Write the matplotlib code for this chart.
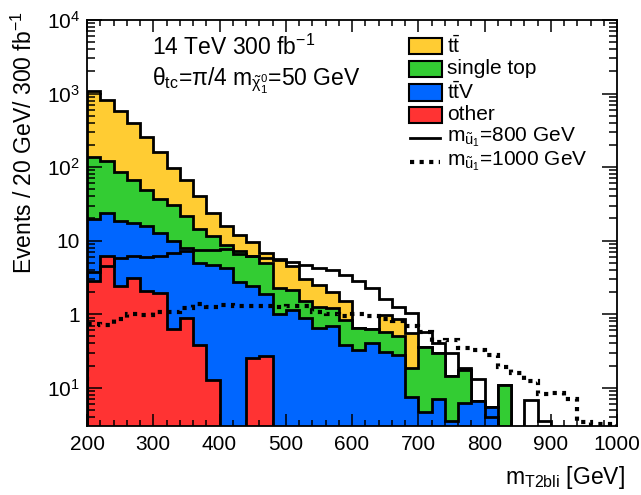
import numpy as np
import matplotlib
matplotlib.use("Agg")
import matplotlib.pyplot as plt
from matplotlib.patches import Rectangle
from matplotlib.lines import Line2D
from matplotlib.ticker import FixedLocator, FixedFormatter, LogLocator, MultipleLocator, NullFormatter

plt.rcParams['font.family'] = ['Liberation Sans', 'DejaVu Sans']
plt.rcParams['mathtext.fontset'] = 'custom'
plt.rcParams['mathtext.rm'] = 'Liberation Sans'
plt.rcParams['mathtext.it'] = 'Liberation Sans:italic'
plt.rcParams['mathtext.bf'] = 'Liberation Sans:bold'

# binning: 20 GeV bins from 200 to 1000
bin_edges = np.arange(200, 1001, 20)

# background yields per bin (events / 20 GeV / 300 fb^-1)
other = [2.85, 6.1, 2.44, 3.1, 2.04, 1.94, 0.63, 0.90, 0.38, 0.128,
         0, 0, 0.25, 0.27, 0, 0, 0, 0, 0, 0,
         0, 0, 0, 0, 0, 0, 0, 0, 0, 0,
         0, 0, 0, 0, 0, 0, 0, 0, 0, 0]
ttv = [16.8, 17.5, 16.3, 14.5, 14.0, 10.8, 9.2, 7.1, 4.6, 4.5,
       4.3, 2.7, 2.15, 1.58, 1.0, 1.15, 0.89, 0.65, 0.70, 0.38,
       0.33, 0.40, 0.31, 0.28, 0.074, 0.046, 0.071, 0.035, 0.062, 0.065,
       0.055, 0, 0, 0, 0, 0, 0, 0, 0, 0]
single_top = [119.4, 97.4, 68.3, 49.4, 33.0, 23.9, 20.8, 13.3, 9.5, 6.9,
              4.5, 4.5, 3.8, 3.15, 1.3, 1.0, 0.60, 0.62, 0.51, 0.46,
              0.32, 0.23, 0.27, 0.22, 0.111, 0.314, 0.224, 0.107, 0.113, 0,
              0, 0.109, 0, 0, 0, 0, 0, 0, 0, 0]
ttbar = [941, 697, 493, 336, 206, 126, 66, 46, 25.5, 12.1,
         6.8, 4.8, 3.3, 1.8, 3.3, 2.35, 1.5, 1.23, 0.79, 0.66,
         0, 0, 0.40, 0.36, 0.365, 0, 0, 0, 0, 0,
         0, 0, 0, 0, 0, 0, 0, 0, 0, 0]

# signal yields
sig_800 = [3.7, 4.5, 5.8, 6.1, 6.0, 6.1, 6.8, 7.3, 7.5, 7.5,
           7.6, 6.6, 6.1, 5.8, 5.4, 5.1, 4.6, 4.3, 4.0, 3.4,
           2.8, 2.25, 1.62, 1.27, 1.04, 0.58, 0.40, 0.295, 0.185, 0.133,
           0.04, 0, 0, 0.068, 0.035, 0, 0, 0, 0, 0]
sig_1000 = [0.73, 0.72, 0.85, 1.0, 0.98, 1.07, 1.06, 1.21, 1.39, 1.27,
            1.34, 1.30, 1.30, 1.30, 1.26, 1.31, 1.31, 1.06, 1.0, 0.95,
            1.0, 0.93, 0.87, 0.80, 0.68, 0.58, 0.42, 0.45, 0.345, 0.33,
            0.28, 0.19, 0.16, 0.125, 0.082, 0.084, 0.07, 0.034, 0.032, 0.032]

# legend order (top to bottom) and matching colours
labels = [r'$\mathrm{t\bar{t}}$', 'single top', r'$\mathrm{t\bar{t}V}$', 'other']
colors = ['#FFCC33', '#33CC33', '#0066FF', '#FF3333']

ymin, ymax = 0.0306, 1e4
floor = 1e-4


def floored(v):
    v = np.asarray(v, dtype=float)
    return np.where(v > 0, v, floor)


fig = plt.figure(figsize=(6.41, 4.95), dpi=100)
ax = fig.add_axes([87 / 641, 1 - 425.5 / 495, 530 / 641, 405.5 / 495])

# stacked histogram, bottom layer first in the sum, drawn from the total down
layers = [other, ttv, single_top, ttbar]
layer_colors = colors[::-1]
tops = np.cumsum(np.array(layers, dtype=float), axis=0)
for i in [3, 2, 1, 0]:
    top = floored(tops[i])
    ax.stairs(top, bin_edges, baseline=floor, fill=True, color=layer_colors[i], lw=0)
    ax.stairs(top, bin_edges, baseline=floor, color='black', lw=2.0)

ax.stairs(floored(sig_800), bin_edges, baseline=floor, color='black', lw=2.0)
ax.stairs(floored(sig_1000), bin_edges, baseline=floor, color='black', lw=3.0,
          linestyle=(0, (1.0, 1.3)))

ax.set_yscale('log')
ax.set_xlim(200, 1000)
ax.set_ylim(ymin, ymax)

ax.xaxis.set_major_locator(MultipleLocator(100))
ax.xaxis.set_minor_locator(MultipleLocator(20))
ax.yaxis.set_major_locator(FixedLocator([0.1, 1, 10, 100, 1000, 10000]))
ax.yaxis.set_major_formatter(FixedFormatter([r'$\mathregular{10^{1}}$', '1', '10',
                                             r'$\mathregular{10^{2}}$',
                                             r'$\mathregular{10^{3}}$',
                                             r'$\mathregular{10^{4}}$']))
ax.yaxis.set_minor_locator(LogLocator(base=10, subs=np.arange(2, 10), numticks=20))
ax.yaxis.set_minor_formatter(NullFormatter())

ax.tick_params(which='both', direction='in', top=True, right=True, width=1.1,
               labelsize=15)
ax.tick_params(axis='x', which='major', length=8.5, pad=7)
ax.tick_params(axis='x', which='minor', length=4.5)
ax.tick_params(axis='y', which='major', length=11, pad=5)
ax.tick_params(axis='y', which='minor', length=5.5)
for s in ax.spines.values():
    s.set_linewidth(1.3)

ax.set_ylabel(r'Events / 20 GeV/ 300 fb$^{-1}$', fontsize=16.5, loc='top')
ax.yaxis.set_label_coords(-0.095, 1.02)
ax.set_xlabel(r'm$_{\mathrm{T2bli}}$ [GeV]', fontsize=16.5, loc='right')
ax.xaxis.set_label_coords(1.015, -0.095)

ax.text((152 - 87) / 530, (425.5 - 55) / 405.5, r'14 TeV 300 fb$^{-1}$',
        transform=ax.transAxes, fontsize=16.5, va='baseline', ha='left')
ax.text((152 - 87) / 530, (425.5 - 86) / 405.5,
        r'θ$_{\mathrm{tc}}$=π/4 m$_{\tilde{\mathrm{\chi}}^{0}_{1}}$=50 GeV',
        transform=ax.transAxes, fontsize=16.5, va='baseline', ha='left')

# legend, drawn by hand with ROOT-like uniform rows
row_y = [46, 69, 92.5, 115, 137.5, 161.5]


def fx(px):
    return (px - 87) / 530


def fy(py):
    return (425.5 - py) / 405.5


for k in range(4):
    y0 = row_y[k]
    ax.add_patch(Rectangle((fx(408.5), fy(y0 + 8)), fx(441.5) - fx(408.5), fy(y0 - 8) - fy(y0 + 8),
                           transform=ax.transAxes, facecolor=colors[k],
                           edgecolor='black', lw=1.5, clip_on=False))
sig_labels = [r'm$_{\tilde{\mathrm{u}}_{1}}$=800 GeV', r'm$_{\tilde{\mathrm{u}}_{1}}$=1000 GeV']
ax.add_line(Line2D([fx(410), fx(440)], [fy(row_y[4])] * 2, transform=ax.transAxes,
                   color='black', lw=2.0))
ax.add_line(Line2D([fx(410), fx(440)], [fy(row_y[5])] * 2, transform=ax.transAxes,
                   color='black', lw=3.0, linestyle=(0, (1.0, 1.3))))
for k, lab in enumerate(labels + sig_labels):
    ax.text(fx(447), fy(row_y[k]), lab, transform=ax.transAxes, fontsize=15,
            va='center', ha='left')

fig.savefig('out.png', dpi=100)
